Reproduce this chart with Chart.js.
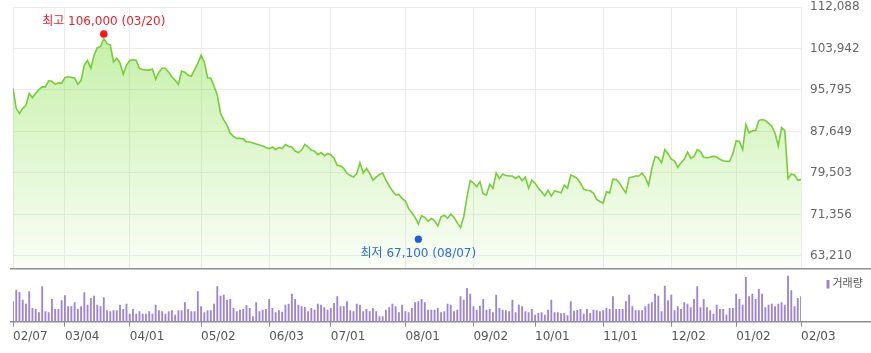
<!DOCTYPE html>
<html lang="ko">
<head>
<meta charset="utf-8">
<title>주가 차트</title>
<script src="https://cdn.jsdelivr.net/npm/chart.js@4.4.1/dist/chart.umd.min.js"></script>
<style>
  html, body { margin: 0; padding: 0; background: #fff; }
  #wrap { position: relative; width: 871px; height: 353px; overflow: hidden; }
  #priceChart { position: absolute; left: 0; top: 0; }
  #volumeChart { position: absolute; left: 0; top: 268px; }
</style>
</head>
<body>
<div id="wrap">
  <canvas id="priceChart" width="871" height="268"></canvas>
  <canvas id="volumeChart" width="871" height="85"></canvas>
</div>
<script>
// daily closing prices, one per trading day (02/07 .. 02/03)
const closes = [
  96100, 92200, 91200, 92200, 92800, 95100, 94300, 95100, 95900, 96400,
  96400, 97600, 97500, 96900, 97200, 97100, 98200, 98400, 98300, 98100,
  96900, 97700, 100700, 101600, 100000, 102600, 104100, 104300, 105900, 104900,
  104600, 101300, 102000, 101100, 98900, 100700, 101600, 101700, 101600, 100000,
  99800, 99700, 99700, 99900, 97900, 99300, 100100, 100000, 99300, 98400,
  97700, 96900, 99500, 99300, 98700, 98500, 99800, 101000, 102600, 101300,
  98200, 98100, 96500, 94800, 91200, 89900, 88900, 87300, 86700, 86300,
  86300, 86200, 85600, 85600, 85400, 85200, 85000, 84800, 84500, 84300,
  84600, 84100, 84500, 84300, 85100, 84700, 84600, 83800, 83500, 84000,
  85100, 84600, 84000, 83800, 83100, 83500, 82900, 83300, 83100, 82400,
  81000, 80900, 80400, 79400, 79000, 78700, 79400, 81500, 79500, 80400,
  79400, 78100, 78700, 79200, 79500, 78100, 77000, 76000, 75200, 75300,
  74500, 74000, 72500, 71700, 70800, 69500, 71100, 70800, 70000, 70600,
  70100, 69100, 70900, 71200, 70600, 71400, 70800, 69700, 68800, 70900,
  74800, 78000, 77500, 76800, 77800, 75400, 75200, 77300, 76500, 79500,
  78400, 79300, 79000, 78900, 78900, 78400, 78900, 78000, 78700, 76500,
  78100, 77500, 76500, 75800, 75000, 76100, 75000, 76000, 75800, 75600,
  77100, 76500, 79100, 78800, 78400, 77500, 76300, 76100, 76000, 75500,
  74300, 73900, 73600, 75800, 75600, 78300, 78200, 77600, 76500, 75600,
  78600, 78700, 78900, 78900, 79500, 78600, 77100, 80400, 82700, 82500,
  81500, 84100, 83300, 82200, 81900, 80600, 81500, 82200, 83600, 82400,
  82700, 84100, 83700, 82600, 82500, 82600, 82800, 82600, 82200, 81900,
  81800, 81800, 83300, 85800, 85700, 84100, 89000, 87400, 87800, 87800,
  89800, 90000, 89800, 89300, 88700, 87300, 84800, 88400, 87800, 78400,
  79300, 79100, 78100, 78200
];

// daily volume (relative units)
const volumes = [
  2000, 3170, 2930, 2170, 1770, 3000, 1330, 1230, 900, 3500,
  1000, 900, 2230, 1230, 1230, 2100, 2600, 1500, 1500, 1900,
  1230, 1500, 2900, 1670, 2330, 2570, 1670, 1500, 2400, 1100,
  1000, 1100, 1100, 1670, 1230, 1770, 770, 1230, 770, 1000,
  770, 770, 1000, 770, 1670, 1100, 1000, 770, 1000, 1100,
  670, 1100, 1100, 1900, 1230, 1000, 1000, 3000, 1500, 900,
  1100, 1100, 1770, 3500, 2570, 2670, 2170, 2230, 1330, 1000,
  1170, 1230, 1600, 1330, 500, 1900, 1000, 1170, 1230, 2230,
  1330, 900, 1100, 950, 1670, 1770, 2770, 2230, 1670, 1500,
  1430, 1000, 1330, 1170, 1770, 1670, 1400, 1170, 1330, 1830,
  2500, 1500, 1500, 2000, 1100, 1000, 1770, 1670, 1000, 1230,
  1000, 1330, 1000, 500, 500, 1170, 1400, 1770, 1500, 900,
  1670, 1000, 900, 1330, 1900, 2000, 2230, 1900, 1170, 1170,
  1170, 1330, 900, 1000, 1770, 1670, 1000, 1170, 2500, 2170,
  3330, 2770, 1500, 1170, 1570, 2230, 1170, 1230, 900, 2670,
  1330, 1170, 1100, 1000, 2170, 900, 1670, 1500, 1000, 900,
  1230, 670, 830, 900, 670, 1170, 2170, 900, 900, 800,
  830, 620, 2000, 1050, 1130, 1230, 770, 1230, 830, 1170,
  1100, 1000, 1100, 1330, 1230, 2500, 1230, 1230, 1230, 2000,
  2670, 1500, 1100, 1100, 1100, 1500, 1770, 1900, 2770, 2570,
  1000, 3570, 2100, 2670, 1100, 1500, 1230, 1900, 1770, 1400,
  2230, 3500, 1400, 2230, 1400, 1100, 770, 1670, 1230, 1230,
  670, 1330, 1330, 2770, 2230, 1670, 4430, 2500, 2770, 2230,
  3230, 2770, 1400, 1670, 1770, 1500, 1770, 1900, 1670, 4570,
  3100, 1500, 2330, 2500
];

// x-axis tick positions (trading-day index) and their labels
const tickIdx = [0, 16, 36, 58, 79, 98, 121, 142, 161, 182, 203, 223, 243];
const tickLabels = ['02/07', '03/04', '04/01', '05/02', '06/03', '07/01', '08/01',
                    '09/02', '10/01', '11/01', '12/02', '01/02', '02/03'];
const priceTicks = [63210, 71356, 79503, 87649, 95795, 103942, 112088];

// period high / low (intraday)
const highIdx = 28, highPrice = 106000, highDate = '03/20';
const lowIdx = 125, lowPrice = 67100, lowDate = '08/07';

const FONT = "'DejaVu Sans', 'Noto Sans CJK KR', sans-serif";
const fmt = v => v.toLocaleString('en-US');

const xBase = {
  type: 'linear',
  min: 0,
  max: closes.length - 1,
  afterBuildTicks: s => { s.ticks = tickIdx.map(v => ({ value: v })); }
};

// marks the high and low of the period
const highLowPlugin = {
  id: 'highLow',
  afterDatasetsDraw(chart) {
    const c = chart.ctx;
    const xs = chart.scales.x, ys = chart.scales.y;
    c.save();
    c.font = '12px ' + FONT;
    c.textAlign = 'center';
    c.textBaseline = 'middle';

    let x = xs.getPixelForValue(highIdx);
    let y = ys.getPixelForValue(highPrice) - 4;
    c.fillStyle = '#ff1414';
    c.beginPath(); c.arc(x, y, 3.8, 0, Math.PI * 2); c.fill();
    c.fillStyle = '#e8202a';
    c.fillText('최고 ' + fmt(highPrice) + ' (' + highDate + ')', x, y - 12.5);

    x = xs.getPixelForValue(lowIdx);
    y = ys.getPixelForValue(lowPrice) + 3;
    c.fillStyle = '#1f5fd4';
    c.beginPath(); c.arc(x, y, 3.6, 0, Math.PI * 2); c.fill();
    c.fillStyle = '#2d6fd3';
    c.fillText('최저 ' + fmt(lowPrice) + ' (' + lowDate + ')', x, y + 14.5);
    c.restore();
  }
};

// separator lines + volume legend
const framePlugin = {
  id: 'frame',
  beforeDatasetsDraw(chart) {
    const c = chart.ctx;
    const b = chart.chartArea.bottom;
    c.save();
    c.strokeStyle = '#8e8e8e';
    c.lineWidth = 1.5;
    c.beginPath();
    c.moveTo(10, 0.75); c.lineTo(chart.width, 0.75);
    c.moveTo(10, b); c.lineTo(chart.width, b);
    c.stroke();
    c.restore();
  },
  afterDraw(chart) {
    const c = chart.ctx;
    c.save();
    c.fillStyle = '#9d85d4';
    c.fillRect(826.5, 12, 3, 8.5);
    c.fillStyle = '#555';
    c.font = '11px ' + FONT;
    c.textBaseline = 'middle';
    c.fillText('거래량', 832.5, 16.5);
    c.restore();
  }
};

new Chart(document.getElementById('priceChart'), {
  type: 'line',
  data: {
    datasets: [{
      data: closes.map((v, i) => ({ x: i, y: v })),
      borderColor: '#74cf34',
      borderWidth: 1.6,
      pointRadius: 0,
      tension: 0,
      fill: 'start',
      backgroundColor: ctx => {
        const area = ctx.chart.chartArea;
        if (!area) return 'rgba(120,220,50,0.2)';
        const g = ctx.chart.ctx.createLinearGradient(0, area.top, 0, area.bottom);
        g.addColorStop(0, 'rgba(120,220,50,0.47)');
        g.addColorStop(1, 'rgba(120,220,50,0.04)');
        return g;
      }
    }]
  },
  options: {
    responsive: false,
    animation: false,
    layout: { padding: { left: 13, top: 7, right: 0, bottom: 0 } },
    plugins: { legend: { display: false }, tooltip: { enabled: false } },
    scales: {
      x: {
        ...xBase,
        ticks: { display: false },
        border: { display: false },
        grid: { color: '#ececec', drawTicks: false },
        afterFit: s => { s.height = 0; s.paddingLeft = 0; s.paddingRight = 0; }
      },
      y: {
        position: 'right',
        min: 60850,
        max: 112088,
        afterBuildTicks: s => { s.ticks = priceTicks.map(v => ({ value: v })); },
        ticks: { padding: 9, color: '#666', font: { family: FONT, size: 12 }, callback: v => fmt(v) },
        grid: { color: '#ececec', drawTicks: false },
        border: { display: false },
        afterFit: s => { s.width = 70; s.paddingTop = 0; s.paddingBottom = 0; }
      }
    }
  },
  plugins: [highLowPlugin]
});

new Chart(document.getElementById('volumeChart'), {
  type: 'bar',
  data: {
    datasets: [{
      data: volumes.map((v, i) => ({ x: i, y: v })),
      backgroundColor: '#9d85d4',
      barThickness: 1.2,
      borderWidth: 0
    }]
  },
  options: {
    responsive: false,
    animation: false,
    layout: { padding: { left: 13, top: 6, right: 70, bottom: 0 } },
    plugins: { legend: { display: false }, tooltip: { enabled: false } },
    scales: {
      x: {
        ...xBase,
        offset: false,
        grid: { offset: false, drawOnChartArea: false, drawTicks: true, tickLength: 5, color: '#8c8c8c' },
        border: { display: false },
        ticks: {
          align: 'start', maxRotation: 0, autoSkip: false, padding: 3,
          color: '#555', font: { family: FONT, size: 12 },
          callback: v => tickLabels[tickIdx.indexOf(v)]
        },
        afterFit: s => { s.height = 31.3; s.paddingLeft = 0; s.paddingRight = 0; }
      },
      y: { display: false, min: 0, max: 4770 }
    }
  },
  plugins: [framePlugin]
});
</script>
</body>
</html>
